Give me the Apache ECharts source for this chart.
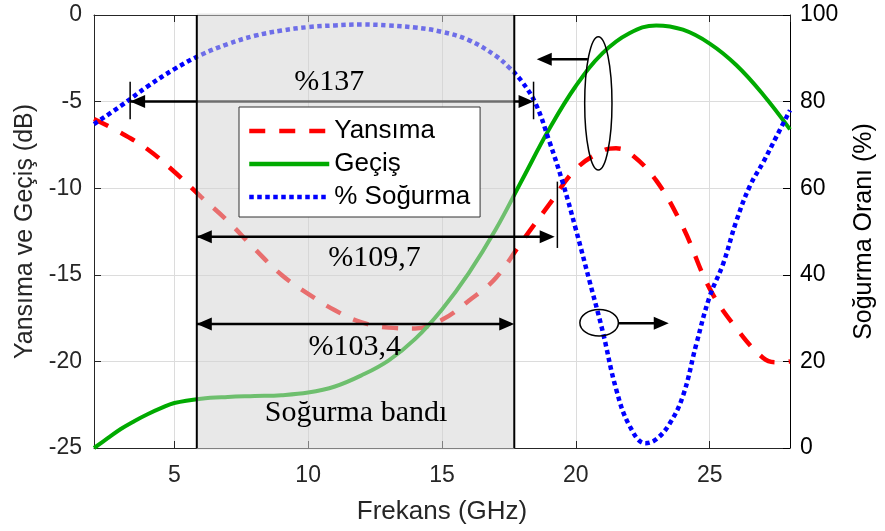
<!DOCTYPE html>
<html>
<head>
<meta charset="utf-8">
<script src="https://cdn.jsdelivr.net/npm/echarts@6/dist/echarts.min.js"></script>
<style>
  html, body { margin: 0; padding: 0; background: #fff; }
  #chart { width: 885px; height: 531px; }
</style>
</head>
<body>
<div id="chart"></div>
<script>
// Reflection (Yansıma) in dB
const freqR = [2, 3, 4, 5, 6, 7, 8, 9, 10, 11, 12, 13, 14, 15, 16, 17, 18, 19, 20, 21, 21.5, 22, 23, 24, 25, 26, 27, 27.5, 28];
const yansima = [-6.0, -6.8, -7.75, -9.05, -10.5, -11.9, -13.5, -15.0, -16.1, -17.05, -17.75, -18.05, -18.1, -17.6, -16.5, -15.2, -13.05, -10.95, -8.9, -7.85, -7.7, -7.95, -9.55, -12.25, -15.8, -18.1, -19.8, -20.05, -20.0];

// Transmission (Geçiş) in dB
const freqG = [2, 2.5, 3, 3.5, 4, 4.5, 5, 6, 7, 8, 9, 10, 11, 12, 13, 14, 15, 16, 17, 18, 19, 20, 21, 22, 23, 24, 25, 26, 27, 28];
const gecis = [-25.0, -24.45, -23.9, -23.45, -23.05, -22.7, -22.4, -22.15, -22.05, -22.0, -21.95, -21.8, -21.45, -20.8, -19.95, -18.7, -17.0, -14.9, -12.4, -9.5, -6.6, -4.1, -2.2, -1.05, -0.6, -0.85, -1.65, -2.9, -4.6, -6.6];

// Absorption ratio (Soğurma) in %
const freqB = [2, 3, 4, 5, 6, 7, 8, 9, 10, 11, 12, 13, 14, 15, 16, 17, 17.5, 18, 18.5, 19, 19.5, 20, 20.5, 21, 21.5, 22, 22.6, 23, 23.5, 24, 24.5, 25, 25.5, 26, 26.5, 27, 27.5, 28];
const sogurma = [74.8, 79.0, 83.5, 87.5, 90.8, 93.3, 95.2, 96.4, 97.2, 97.6, 97.8, 97.6, 97.1, 96.1, 94.2, 90.6, 87.9, 84.5, 79.5, 71.0, 61.5, 50.5, 38.8, 27.0, 13.7, 5.2, 1.1, 2.0, 5.6, 12.0, 24.0, 35.0, 42.5, 52.5, 60.5, 66.0, 72.0, 78.0];

// Axis ranges
const freqRange = [2, 28];
const dbRange = [-25, 0];
const pctRange = [0, 100];

// Absorption band edges (GHz)
const bandGHz = [5.84, 17.7];

// Bandwidth dimension arrows: labels, start/end (GHz), level (dB)
const spanLabels = ['%137', '%109,7', '%103,4'];
const spanStart = [3.35, 5.84, 5.84];
const spanEnd = [18.42, 19.21, 17.7];
const spanLevel = [-5, -12.8, -17.84];
const spanLabelX = [10.79, 12.48, 11.74];
const spanLabelY = [-3.9, -14.05, -19.15];

// End marks on the dimension lines: [GHz, top dB, bottom dB]
const endMarks = [[3.35, -3.85, -6.02], [18.42, -3.85, -6.02], [19.31, -9.62, -13.45]];

// Curve-group ellipses: [center GHz, center dB, half-width GHz, half-height dB]
const ellipses = [[20.84, -5.1, 0.51, 3.85], [20.87, -17.77, 0.72, 0.77]];
// Axis pointers from the ellipses: [from GHz, to GHz, dB]
const pointers = [[20.45, 18.54, -2.56], [21.59, 23.47, -17.8]];

const bandLabel = 'Soğurma bandı';
const bandLabelPos = [11.79, -23.0];

const sans = '"Liberation Sans", Arial, sans-serif';
const serif = '"Liberation Serif", "Times New Roman", serif';
const axisColor = '#262626';

const zip = (xs, ys) => xs.map((x, i) => [x, ys[i]]);

function head(tip, dir) {
  const L = 15, W = 6.5;
  return {
    type: 'polygon',
    shape: { points: [[tip[0], tip[1]], [tip[0] - dir * L, tip[1] - W], [tip[0] - dir * L, tip[1] + W]] },
    style: { fill: '#000' }
  };
}

function spanElements(api, i) {
  const a = api.coord([spanStart[i], spanLevel[i]]);
  const b = api.coord([spanEnd[i], spanLevel[i]]);
  return [
    { type: 'line', shape: { x1: a[0], y1: a[1], x2: b[0] - 4, y2: b[1] }, style: { stroke: '#000', lineWidth: 2.5 } },
    head(a, -1),
    head(b, 1)
  ];
}

function markElement(api, m) {
  const p1 = api.coord([m[0], m[1]]);
  const p2 = api.coord([m[0], m[2]]);
  return { type: 'line', shape: { x1: p1[0], y1: p1[1], x2: p2[0], y2: p2[1] }, style: { stroke: '#000', lineWidth: 1.5 } };
}

function textElement(api, str, x, y) {
  const p = api.coord([x, y]);
  return {
    type: 'text',
    style: { text: str, x: p[0], y: p[1], font: '30px ' + serif, fill: '#000', align: 'center', verticalAlign: 'middle' }
  };
}

// Dimension line drawn beneath the shaded band
function renderUnder(params, api) {
  const children = spanElements(api, 0);
  children.push(markElement(api, endMarks[0]));
  children.push(markElement(api, endMarks[1]));
  return { type: 'group', children };
}

// Translucent shading of the absorption band
function renderBand(params, api) {
  const tl = api.coord([bandGHz[0], dbRange[1]]);
  const br = api.coord([bandGHz[1], dbRange[0]]);
  return {
    type: 'rect',
    shape: { x: tl[0], y: tl[1] - 1.5, width: br[0] - tl[0], height: br[1] - tl[1] + 3 },
    style: { fill: 'rgba(210,210,210,0.52)' }
  };
}

// Band edges, remaining arrows, ellipses and labels
function renderOver(params, api) {
  const children = [];
  bandGHz.forEach(f => {
    const t = api.coord([f, dbRange[1]]);
    const b = api.coord([f, dbRange[0]]);
    children.push({ type: 'line', shape: { x1: t[0], y1: t[1], x2: b[0], y2: b[1] }, style: { stroke: '#000', lineWidth: 2 } });
  });
  children.push(...spanElements(api, 1));
  children.push(...spanElements(api, 2));
  children.push(markElement(api, endMarks[2]));
  ellipses.forEach(e => {
    const c = api.coord([e[0], e[1]]);
    const ex = api.coord([e[0] + e[2], e[1]]);
    const ey = api.coord([e[0], e[1] + e[3]]);
    children.push({
      type: 'ellipse',
      shape: { cx: c[0], cy: c[1], rx: Math.abs(ex[0] - c[0]), ry: Math.abs(c[1] - ey[1]) },
      style: { fill: null, stroke: '#000', lineWidth: 1.5 }
    });
  });
  pointers.forEach(p => {
    const a = api.coord([p[0], p[2]]);
    const b = api.coord([p[1], p[2]]);
    const dir = b[0] > a[0] ? 1 : -1;
    children.push({ type: 'line', shape: { x1: a[0], y1: a[1], x2: b[0] - dir * 4, y2: b[1] }, style: { stroke: '#000', lineWidth: 2.5 } });
    children.push(head(b, dir));
  });
  spanLabels.forEach((s, i) => children.push(textElement(api, s, spanLabelX[i], spanLabelY[i])));
  children.push(textElement(api, bandLabel, bandLabelPos[0], bandLabelPos[1]));
  return { type: 'group', children };
}

const chart = echarts.init(document.getElementById('chart'), null, { renderer: 'canvas' });

const xCommon = {
  type: 'value',
  min: freqRange[0],
  max: freqRange[1],
  splitNumber: 5,
  axisLine: { show: true, onZero: false, lineStyle: { color: axisColor, width: 1 } },
  axisTick: { show: true, inside: true, length: 7, lineStyle: { color: axisColor } }
};

chart.setOption({
  animation: false,
  textStyle: { fontFamily: sans },
  grid: { left: 94, right: 90, top: 15, bottom: 83, containLabel: false },
  legend: {
    data: ['Yansıma', 'Geçiş', '% Soğurma'],
    orient: 'vertical',
    left: 239,
    top: 107,
    z: 20,
    itemWidth: 80,
    itemHeight: 22,
    itemGap: 7,
    padding: [11, 10, 7, 8],
    backgroundColor: '#fff',
    borderColor: '#333',
    borderWidth: 1,
    borderRadius: 0,
    selectedMode: false,
    itemStyle: { opacity: 0, borderWidth: 0 },
    lineStyle: { width: 4.5 },
    textStyle: { fontSize: 26, color: '#000', fontFamily: sans }
  },
  xAxis: [
    Object.assign({}, xCommon, {
      position: 'bottom',
      name: 'Frekans (GHz)',
      nameLocation: 'middle',
      nameGap: 51,
      nameTextStyle: { fontSize: 26, color: axisColor, fontFamily: sans },
      axisLabel: { show: true, margin: 16, fontSize: 23, color: axisColor, fontFamily: sans, showMinLabel: false, showMaxLabel: false },
      splitLine: { show: true, lineStyle: { color: '#dcdcdc', width: 1 } }
    }),
    Object.assign({}, xCommon, {
      position: 'top',
      axisLabel: { show: false },
      splitLine: { show: false }
    })
  ],
  yAxis: [
    {
      type: 'value',
      min: dbRange[0],
      max: dbRange[1],
      interval: 5,
      position: 'left',
      name: 'Yansıma ve Geçiş (dB)',
      nameLocation: 'middle',
      nameRotate: 90,
      nameGap: 56,
      nameTextStyle: { fontSize: 25, color: axisColor, fontFamily: sans },
      axisLine: { show: true, onZero: false, lineStyle: { color: axisColor } },
      axisTick: { show: true, inside: true, length: 7, lineStyle: { color: axisColor } },
      axisLabel: { margin: 12, fontSize: 23, color: axisColor, fontFamily: sans },
      splitLine: { show: true, lineStyle: { color: '#dcdcdc', width: 1 } }
    },
    {
      type: 'value',
      min: pctRange[0],
      max: pctRange[1],
      interval: 20,
      position: 'right',
      name: 'Soğurma Oranı (%)',
      nameLocation: 'middle',
      nameRotate: 90,
      nameGap: 62,
      nameTextStyle: { fontSize: 25, color: '#000', fontFamily: sans },
      axisLine: { show: true, onZero: false, lineStyle: { color: '#000' } },
      axisTick: { show: true, inside: true, length: 7, lineStyle: { color: '#000' } },
      axisLabel: { margin: 10, fontSize: 23, color: '#000', fontFamily: sans },
      splitLine: { show: false }
    }
  ],
  series: [
    {
      name: 'Yansıma', type: 'line', xAxisIndex: 0, yAxisIndex: 0,
      data: zip(freqR, yansima), symbol: 'none', smooth: 0.4, z: 2,
      itemStyle: { color: '#ff0000' },
      lineStyle: { color: '#ff0000', width: 4.5, type: [16, 14] }
    },
    {
      name: 'Geçiş', type: 'line', xAxisIndex: 0, yAxisIndex: 0,
      data: zip(freqG, gecis), symbol: 'none', smooth: 0.4, z: 2,
      itemStyle: { color: '#00aa00' },
      lineStyle: { color: '#00aa00', width: 4 }
    },
    {
      name: '% Soğurma', type: 'line', xAxisIndex: 0, yAxisIndex: 1,
      data: zip(freqB, sogurma), symbol: 'none', smooth: 0.4, z: 2,
      itemStyle: { color: '#0000ff' },
      lineStyle: { color: '#0000ff', width: 4.5, type: [4.5, 3.5] }
    },
    {
      type: 'custom', xAxisIndex: 0, yAxisIndex: 0, z: 3, silent: true,
      data: [[freqRange[0], dbRange[0]]], renderItem: renderUnder
    },
    {
      type: 'custom', xAxisIndex: 0, yAxisIndex: 0, z: 4, silent: true,
      data: [[freqRange[0], dbRange[0]]], renderItem: renderBand
    },
    {
      type: 'custom', xAxisIndex: 0, yAxisIndex: 0, z: 5, silent: true,
      data: [[freqRange[0], dbRange[0]]], renderItem: renderOver
    }
  ]
});
</script>
</body>
</html>
